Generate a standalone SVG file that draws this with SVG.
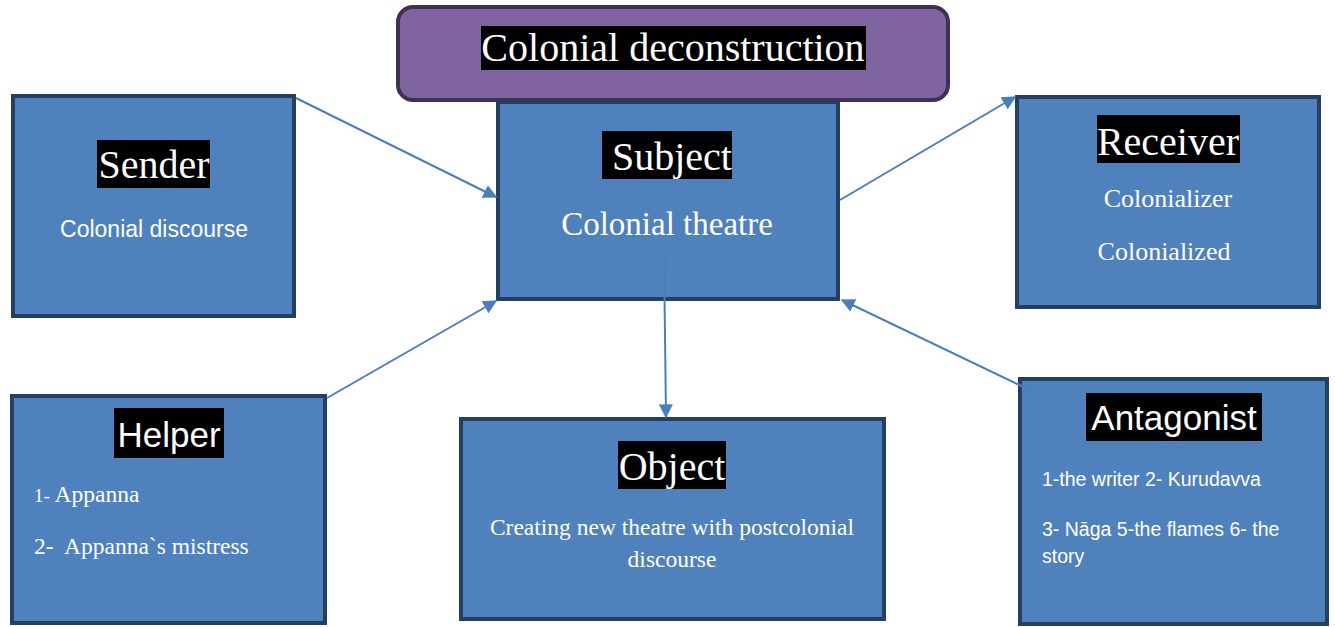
<svg xmlns="http://www.w3.org/2000/svg" width="1335" height="627" viewBox="0 0 1335 627">
<defs>
<style>
.box{fill:#4f81bd;stroke:#243f60;stroke-width:4}
.hl{fill:#000}
.serif{font-family:"Liberation Serif","Times New Roman",serif;fill:#fff}
.sans{font-family:"Liberation Sans",Arial,sans-serif;fill:#fff}
.big{font-size:40px}
.c{text-anchor:middle}
.conn{stroke:#4a7ebb;stroke-width:2;fill:none;marker-end:url(#ah)}
</style>
<marker id="ah" viewBox="0 0 10 10" refX="9" refY="5" markerWidth="7" markerHeight="7" orient="auto" markerUnits="strokeWidth">
<path d="M0,0 L10,5 L0,10 z" fill="#4a7ebb"/>
</marker>
</defs>
<rect width="1335" height="627" fill="#fff"/>
<g id="title">
<rect x="398" y="7" width="550" height="93" rx="15" fill="#8064a2" stroke="#3f3151" stroke-width="4"/>
<rect class="hl" x="481" y="26" width="385" height="44"/>
<text class="serif big c" x="673" y="61">Colonial deconstruction</text>
</g>
<g id="sender">
<rect class="box" x="13" y="96" width="281" height="220"/>
<rect class="hl" x="97" y="140" width="113" height="48"/>
<text class="serif big c" x="154" y="178">Sender</text>
<text class="sans c" x="154" y="237" font-size="23">Colonial discourse</text>
</g>
<g id="subject">
<rect class="box" x="498" y="102" width="340" height="197"/>
<rect class="hl" x="602" y="131" width="130" height="48"/>
<text class="serif big" x="612" y="170">Subject</text>
<text class="serif c" x="667" y="235" font-size="33">Colonial theatre</text>
</g>
<g id="receiver">
<rect class="box" x="1017" y="97" width="302" height="210"/>
<rect class="hl" x="1097" y="115" width="143" height="48"/>
<text class="serif big c" x="1168" y="155">Receiver</text>
<text class="serif c" x="1168" y="207" font-size="26">Colonializer</text>
<text class="serif c" x="1164" y="260" font-size="26">Colonialized</text>
</g>
<g id="helper">
<rect class="box" x="12" y="396" width="313" height="227"/>
<rect class="hl" x="114" y="408" width="110" height="50"/>
<text class="sans c" x="169" y="447" font-size="35">Helper</text>
<text class="serif" x="34" y="502" font-size="23.5" xml:space="preserve"><tspan font-size="19">1- </tspan>Appanna</text>
<text class="serif" x="34" y="554" font-size="23.5" xml:space="preserve">2-  Appanna`s mistress</text>
</g>
<g id="object">
<rect class="box" x="461" y="419" width="423" height="200"/>
<rect class="hl" x="618" y="441" width="108" height="48"/>
<text class="serif big c" x="672" y="480">Object</text>
<text class="serif c" x="672" y="535" font-size="23.5">Creating new theatre with postcolonial</text>
<text class="serif c" x="672" y="567" font-size="23.5">discourse</text>
</g>
<g id="antagonist">
<rect class="box" x="1020" y="379" width="307" height="245"/>
<rect class="hl" x="1086" y="393" width="176" height="48"/>
<text class="sans c" x="1174" y="430" font-size="35">Antagonist</text>
<text class="sans" x="1042" y="486" font-size="19.5">1-the writer 2- Kurudavva</text>
<text class="sans" x="1042" y="536" font-size="19.5">3- Nāga 5-the flames 6- the</text>
<text class="sans" x="1042" y="563" font-size="19.5">story</text>
</g>
<g id="connectors">
<line class="conn" x1="296" y1="98" x2="496" y2="197"/>
<line class="conn" x1="840" y1="200" x2="1015" y2="97"/>
<line class="conn" x1="327" y1="398" x2="496" y2="301"/>
<line class="conn" x1="1036" y1="393" x2="842" y2="300"/>
<line class="conn" x1="664" y1="255" x2="666" y2="417"/>
</g>
</svg>
